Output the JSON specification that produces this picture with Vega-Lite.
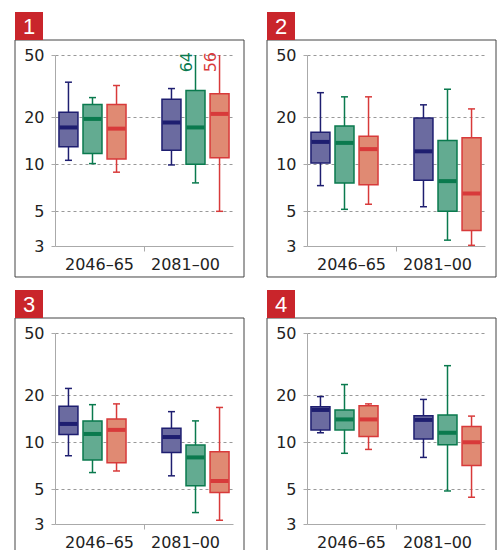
{
  "$schema": "https://vega.github.io/schema/vega-lite/v6.json",
  "padding": {"left": 14, "top": 12, "right": 0, "bottom": 0},
  "config": {
    "view": {"stroke": null},
    "font": "DejaVu Sans",
    "axis": {"labelFont": "DejaVu Sans", "labelFontSize": 16, "labelColor": "#222"}
  },
  "datasets": {
    "panels": [{"panel": 1}, {"panel": 2}, {"panel": 3}, {"panel": 4}],
    "boxes": [
      {"panel": 1, "period": "2046–65", "series": "A", "lo": 10.6, "q1": 12.95, "med": 17.2, "q3": 21.5, "hi": 33.5},
      {"panel": 1, "period": "2046–65", "series": "B", "lo": 10.1, "q1": 11.7, "med": 19.5, "q3": 24.1, "hi": 26.7},
      {"panel": 1, "period": "2046–65", "series": "C", "lo": 8.9, "q1": 10.8, "med": 16.9, "q3": 24.1, "hi": 31.9},
      {"panel": 1, "period": "2081–00", "series": "A", "lo": 9.9, "q1": 12.3, "med": 18.5, "q3": 26.1, "hi": 30.5},
      {"panel": 1, "period": "2081–00", "series": "B", "lo": 7.6, "q1": 10.0, "med": 17.2, "q3": 29.6, "hi": 64, "lab": "64"},
      {"panel": 1, "period": "2081–00", "series": "C", "lo": 5.0, "q1": 11.0, "med": 21.0, "q3": 28.3, "hi": 56, "lab": "56"},
      {"panel": 2, "period": "2046–65", "series": "A", "lo": 7.3, "q1": 10.2, "med": 13.9, "q3": 16.0, "hi": 28.7},
      {"panel": 2, "period": "2046–65", "series": "B", "lo": 5.15, "q1": 7.6, "med": 13.7, "q3": 17.6, "hi": 27.0},
      {"panel": 2, "period": "2046–65", "series": "C", "lo": 5.55, "q1": 7.4, "med": 12.5, "q3": 15.1, "hi": 27.0},
      {"panel": 2, "period": "2081–00", "series": "A", "lo": 5.35, "q1": 7.9, "med": 12.1, "q3": 19.8, "hi": 24.0},
      {"panel": 2, "period": "2081–00", "series": "B", "lo": 3.27, "q1": 5.0, "med": 7.8, "q3": 14.2, "hi": 30.2},
      {"panel": 2, "period": "2081–00", "series": "C", "lo": 3.03, "q1": 3.77, "med": 6.5, "q3": 14.8, "hi": 22.6},
      {"panel": 3, "period": "2046–65", "series": "A", "lo": 8.2, "q1": 11.2, "med": 13.1, "q3": 17.0, "hi": 22.1},
      {"panel": 3, "period": "2046–65", "series": "B", "lo": 6.4, "q1": 7.7, "med": 11.3, "q3": 13.7, "hi": 17.4},
      {"panel": 3, "period": "2046–65", "series": "C", "lo": 6.55, "q1": 7.4, "med": 12.0, "q3": 14.1, "hi": 17.6},
      {"panel": 3, "period": "2081–00", "series": "A", "lo": 6.1, "q1": 8.6, "med": 10.8, "q3": 12.3, "hi": 15.7},
      {"panel": 3, "period": "2081–00", "series": "B", "lo": 3.55, "q1": 5.27, "med": 8.0, "q3": 9.6, "hi": 13.7},
      {"panel": 3, "period": "2081–00", "series": "C", "lo": 3.17, "q1": 4.78, "med": 5.65, "q3": 8.7, "hi": 16.7},
      {"panel": 4, "period": "2046–65", "series": "A", "lo": 11.5, "q1": 12.0, "med": 16.1, "q3": 16.9, "hi": 19.6},
      {"panel": 4, "period": "2046–65", "series": "B", "lo": 8.5, "q1": 12.0, "med": 14.0, "q3": 16.1, "hi": 23.4},
      {"panel": 4, "period": "2046–65", "series": "C", "lo": 9.0, "q1": 10.9, "med": 14.0, "q3": 17.1, "hi": 17.6},
      {"panel": 4, "period": "2081–00", "series": "A", "lo": 8.0, "q1": 10.5, "med": 13.9, "q3": 14.8, "hi": 18.8},
      {"panel": 4, "period": "2081–00", "series": "B", "lo": 4.88, "q1": 9.65, "med": 11.5, "q3": 14.95, "hi": 30.9},
      {"panel": 4, "period": "2081–00", "series": "C", "lo": 4.45, "q1": 7.1, "med": 10.0, "q3": 12.6, "hi": 14.7}
    ]
  },
  "columns": 2,
  "spacing": {"column": 21, "row": 12},
  "concat": [
    {
      "width": 178, "height": 191,
      "resolve": {"scale": {"x": "independent", "y": "independent"}},
      "layer": [
        {
          "data": {"name": "panels"},
          "transform": [{"filter": "datum.panel == 1"}],
          "layer": [
            {"mark": {"type": "rect", "fill": null, "fillOpacity": 0, "stroke": "#444", "strokeWidth": 1},
             "encoding": {
               "x": {"datum": -0.2247, "type": "quantitative", "scale": {"domain": [0, 1]}, "axis": null},
               "x2": {"datum": 1.0618},
               "y": {"datum": -0.1623, "type": "quantitative", "scale": {"domain": [0, 1]}, "axis": null},
               "y2": {"datum": 1.0785}}},
            {"mark": {"type": "rect", "fill": "#c9252b"},
             "encoding": {
               "x": {"datum": -0.2247, "type": "quantitative"},
               "x2": {"datum": -0.0674},
               "y": {"datum": 1.0785, "type": "quantitative"},
               "y2": {"datum": 1.2251}}},
            {"mark": {"type": "text", "color": "white", "fontSize": 22, "baseline": "middle", "align": "center", "font": "Liberation Sans"},
             "encoding": {
               "x": {"datum": -0.146, "type": "quantitative"},
               "y": {"datum": 1.147, "type": "quantitative"},
               "text": {"field": "panel"}}}
          ]
        },
        {
          "data": {"name": "boxes"},
          "transform": [{"filter": "datum.panel == 1"}],
          "encoding": {
            "x": {"field": "period", "type": "nominal", "sort": null,
                  "scale": {"paddingInner": 0.3, "paddingOuter": 0.014},
                  "axis": {"orient": "bottom", "title": null, "labelAngle": 0, "domainColor": "#aaa", "tickColor": "#aaa", "tickSize": 5,
                           "bandPosition": -0.214,
                           "tickOpacity": {"condition": {"test": "datum.value == '2046–65'", "value": 0}, "value": 1},
                           "labelOffset": {"condition": {"test": "datum.value == '2046–65'", "value": 7}, "value": -10},
                           "labelPadding": 5}},
            "xOffset": {"field": "series", "type": "nominal", "sort": null,
                        "scale": {"paddingInner": 0.21, "paddingOuter": 0.105}}
          },
          "layer": [
            {"mark": {"type": "rule", "strokeWidth": 1.5, "clip": true},
             "encoding": {
               "y": {"field": "lo", "type": "quantitative",
                     "scale": {"type": "log", "domain": [3, 50], "nice": false},
                     "axis": {"orient": "left", "title": null, "values": [3, 5, 10, 20, 50], "grid": true, "gridDash": [3, 3], "gridColor": "#999",
                              "gridOpacity": {"condition": {"test": "datum.value == 3", "value": 0}, "value": 1},
                              "domainColor": "#aaa", "tickColor": "#aaa", "tickSize": 4, "labelPadding": 7}},
               "y2": {"field": "hi"},
               "stroke": {"field": "series", "scale": {"domain": ["A", "B", "C"], "range": ["#1e1e70", "#0a7a4e", "#d83a3a"]}, "legend": null}}},
            {"mark": {"type": "tick", "size": 7, "thickness": 1.5, "opacity": 1, "clip": true},
             "encoding": {"y": {"field": "lo", "type": "quantitative"},
                          "color": {"field": "series", "scale": {"domain": ["A", "B", "C"], "range": ["#1e1e70", "#0a7a4e", "#d83a3a"]}, "legend": null}}},
            {"mark": {"type": "tick", "size": 7, "thickness": 1.5, "opacity": 1, "clip": true},
             "encoding": {"y": {"field": "hi", "type": "quantitative"},
                          "color": {"field": "series", "legend": null}}},
            {"mark": {"type": "bar", "strokeWidth": 1.5, "clip": true},
             "encoding": {
               "y": {"field": "q1", "type": "quantitative"},
               "y2": {"field": "q3"},
               "fill": {"field": "series", "scale": {"domain": ["A", "B", "C"], "range": ["#6b6ba0", "#63ab91", "#e08a73"]}, "legend": null},
               "stroke": {"field": "series", "legend": null}}},
            {"mark": {"type": "tick", "size": 18, "thickness": 4, "opacity": 1, "clip": true},
             "encoding": {"y": {"field": "med", "type": "quantitative"},
                          "color": {"field": "series", "legend": null}}},
            {"transform": [{"filter": "datum.lab"}],
             "mark": {"type": "text", "angle": 270, "align": "right", "baseline": "bottom", "dx": 3, "dy": -1, "fontSize": 16},
             "encoding": {"y": {"datum": 50, "type": "quantitative"},
                          "text": {"field": "lab"},
                          "color": {"field": "series", "legend": null}}}
          ]
        }
      ]
    },
    {
      "width": 178, "height": 191,
      "resolve": {"scale": {"x": "independent", "y": "independent"}},
      "layer": [
        {
          "data": {"name": "panels"},
          "transform": [{"filter": "datum.panel == 2"}],
          "layer": [
            {"mark": {"type": "rect", "fill": null, "fillOpacity": 0, "stroke": "#444", "strokeWidth": 1},
             "encoding": {
               "x": {"datum": -0.2247, "type": "quantitative", "scale": {"domain": [0, 1]}, "axis": null},
               "x2": {"datum": 1.0618},
               "y": {"datum": -0.1623, "type": "quantitative", "scale": {"domain": [0, 1]}, "axis": null},
               "y2": {"datum": 1.0785}}},
            {"mark": {"type": "rect", "fill": "#c9252b"},
             "encoding": {
               "x": {"datum": -0.2247, "type": "quantitative"},
               "x2": {"datum": -0.0674},
               "y": {"datum": 1.0785, "type": "quantitative"},
               "y2": {"datum": 1.2251}}},
            {"mark": {"type": "text", "color": "white", "fontSize": 22, "baseline": "middle", "align": "center", "font": "Liberation Sans"},
             "encoding": {
               "x": {"datum": -0.146, "type": "quantitative"},
               "y": {"datum": 1.147, "type": "quantitative"},
               "text": {"field": "panel"}}}
          ]
        },
        {
          "data": {"name": "boxes"},
          "transform": [{"filter": "datum.panel == 2"}],
          "encoding": {
            "x": {"field": "period", "type": "nominal", "sort": null,
                  "scale": {"paddingInner": 0.3, "paddingOuter": 0.014},
                  "axis": {"orient": "bottom", "title": null, "labelAngle": 0, "domainColor": "#aaa", "tickColor": "#aaa", "tickSize": 5,
                           "bandPosition": -0.214,
                           "tickOpacity": {"condition": {"test": "datum.value == '2046–65'", "value": 0}, "value": 1},
                           "labelOffset": {"condition": {"test": "datum.value == '2046–65'", "value": 7}, "value": -10},
                           "labelPadding": 5}},
            "xOffset": {"field": "series", "type": "nominal", "sort": null,
                        "scale": {"paddingInner": 0.21, "paddingOuter": 0.105}}
          },
          "layer": [
            {"mark": {"type": "rule", "strokeWidth": 1.5, "clip": true},
             "encoding": {
               "y": {"field": "lo", "type": "quantitative",
                     "scale": {"type": "log", "domain": [3, 50], "nice": false},
                     "axis": {"orient": "left", "title": null, "values": [3, 5, 10, 20, 50], "grid": true, "gridDash": [3, 3], "gridColor": "#999",
                              "gridOpacity": {"condition": {"test": "datum.value == 3", "value": 0}, "value": 1},
                              "domainColor": "#aaa", "tickColor": "#aaa", "tickSize": 4, "labelPadding": 7}},
               "y2": {"field": "hi"},
               "stroke": {"field": "series", "scale": {"domain": ["A", "B", "C"], "range": ["#1e1e70", "#0a7a4e", "#d83a3a"]}, "legend": null}}},
            {"mark": {"type": "tick", "size": 7, "thickness": 1.5, "opacity": 1, "clip": true},
             "encoding": {"y": {"field": "lo", "type": "quantitative"},
                          "color": {"field": "series", "scale": {"domain": ["A", "B", "C"], "range": ["#1e1e70", "#0a7a4e", "#d83a3a"]}, "legend": null}}},
            {"mark": {"type": "tick", "size": 7, "thickness": 1.5, "opacity": 1, "clip": true},
             "encoding": {"y": {"field": "hi", "type": "quantitative"},
                          "color": {"field": "series", "legend": null}}},
            {"mark": {"type": "bar", "strokeWidth": 1.5, "clip": true},
             "encoding": {
               "y": {"field": "q1", "type": "quantitative"},
               "y2": {"field": "q3"},
               "fill": {"field": "series", "scale": {"domain": ["A", "B", "C"], "range": ["#6b6ba0", "#63ab91", "#e08a73"]}, "legend": null},
               "stroke": {"field": "series", "legend": null}}},
            {"mark": {"type": "tick", "size": 18, "thickness": 4, "opacity": 1, "clip": true},
             "encoding": {"y": {"field": "med", "type": "quantitative"},
                          "color": {"field": "series", "legend": null}}}
          ]
        }
      ]
    },
    {
      "width": 178, "height": 191,
      "resolve": {"scale": {"x": "independent", "y": "independent"}},
      "layer": [
        {
          "data": {"name": "panels"},
          "transform": [{"filter": "datum.panel == 3"}],
          "layer": [
            {"mark": {"type": "rect", "fill": null, "fillOpacity": 0, "stroke": "#444", "strokeWidth": 1},
             "encoding": {
               "x": {"datum": -0.2247, "type": "quantitative", "scale": {"domain": [0, 1]}, "axis": null},
               "x2": {"datum": 1.0618},
               "y": {"datum": -0.1623, "type": "quantitative", "scale": {"domain": [0, 1]}, "axis": null},
               "y2": {"datum": 1.0785}}},
            {"mark": {"type": "rect", "fill": "#c9252b"},
             "encoding": {
               "x": {"datum": -0.2247, "type": "quantitative"},
               "x2": {"datum": -0.0674},
               "y": {"datum": 1.0785, "type": "quantitative"},
               "y2": {"datum": 1.2251}}},
            {"mark": {"type": "text", "color": "white", "fontSize": 22, "baseline": "middle", "align": "center", "font": "Liberation Sans"},
             "encoding": {
               "x": {"datum": -0.146, "type": "quantitative"},
               "y": {"datum": 1.147, "type": "quantitative"},
               "text": {"field": "panel"}}}
          ]
        },
        {
          "data": {"name": "boxes"},
          "transform": [{"filter": "datum.panel == 3"}],
          "encoding": {
            "x": {"field": "period", "type": "nominal", "sort": null,
                  "scale": {"paddingInner": 0.3, "paddingOuter": 0.014},
                  "axis": {"orient": "bottom", "title": null, "labelAngle": 0, "domainColor": "#aaa", "tickColor": "#aaa", "tickSize": 5,
                           "bandPosition": -0.214,
                           "tickOpacity": {"condition": {"test": "datum.value == '2046–65'", "value": 0}, "value": 1},
                           "labelOffset": {"condition": {"test": "datum.value == '2046–65'", "value": 7}, "value": -10},
                           "labelPadding": 5}},
            "xOffset": {"field": "series", "type": "nominal", "sort": null,
                        "scale": {"paddingInner": 0.21, "paddingOuter": 0.105}}
          },
          "layer": [
            {"mark": {"type": "rule", "strokeWidth": 1.5, "clip": true},
             "encoding": {
               "y": {"field": "lo", "type": "quantitative",
                     "scale": {"type": "log", "domain": [3, 50], "nice": false},
                     "axis": {"orient": "left", "title": null, "values": [3, 5, 10, 20, 50], "grid": true, "gridDash": [3, 3], "gridColor": "#999",
                              "gridOpacity": {"condition": {"test": "datum.value == 3", "value": 0}, "value": 1},
                              "domainColor": "#aaa", "tickColor": "#aaa", "tickSize": 4, "labelPadding": 7}},
               "y2": {"field": "hi"},
               "stroke": {"field": "series", "scale": {"domain": ["A", "B", "C"], "range": ["#1e1e70", "#0a7a4e", "#d83a3a"]}, "legend": null}}},
            {"mark": {"type": "tick", "size": 7, "thickness": 1.5, "opacity": 1, "clip": true},
             "encoding": {"y": {"field": "lo", "type": "quantitative"},
                          "color": {"field": "series", "scale": {"domain": ["A", "B", "C"], "range": ["#1e1e70", "#0a7a4e", "#d83a3a"]}, "legend": null}}},
            {"mark": {"type": "tick", "size": 7, "thickness": 1.5, "opacity": 1, "clip": true},
             "encoding": {"y": {"field": "hi", "type": "quantitative"},
                          "color": {"field": "series", "legend": null}}},
            {"mark": {"type": "bar", "strokeWidth": 1.5, "clip": true},
             "encoding": {
               "y": {"field": "q1", "type": "quantitative"},
               "y2": {"field": "q3"},
               "fill": {"field": "series", "scale": {"domain": ["A", "B", "C"], "range": ["#6b6ba0", "#63ab91", "#e08a73"]}, "legend": null},
               "stroke": {"field": "series", "legend": null}}},
            {"mark": {"type": "tick", "size": 18, "thickness": 4, "opacity": 1, "clip": true},
             "encoding": {"y": {"field": "med", "type": "quantitative"},
                          "color": {"field": "series", "legend": null}}}
          ]
        }
      ]
    },
    {
      "width": 178, "height": 191,
      "resolve": {"scale": {"x": "independent", "y": "independent"}},
      "layer": [
        {
          "data": {"name": "panels"},
          "transform": [{"filter": "datum.panel == 4"}],
          "layer": [
            {"mark": {"type": "rect", "fill": null, "fillOpacity": 0, "stroke": "#444", "strokeWidth": 1},
             "encoding": {
               "x": {"datum": -0.2247, "type": "quantitative", "scale": {"domain": [0, 1]}, "axis": null},
               "x2": {"datum": 1.0618},
               "y": {"datum": -0.1623, "type": "quantitative", "scale": {"domain": [0, 1]}, "axis": null},
               "y2": {"datum": 1.0785}}},
            {"mark": {"type": "rect", "fill": "#c9252b"},
             "encoding": {
               "x": {"datum": -0.2247, "type": "quantitative"},
               "x2": {"datum": -0.0674},
               "y": {"datum": 1.0785, "type": "quantitative"},
               "y2": {"datum": 1.2251}}},
            {"mark": {"type": "text", "color": "white", "fontSize": 22, "baseline": "middle", "align": "center", "font": "Liberation Sans"},
             "encoding": {
               "x": {"datum": -0.146, "type": "quantitative"},
               "y": {"datum": 1.147, "type": "quantitative"},
               "text": {"field": "panel"}}}
          ]
        },
        {
          "data": {"name": "boxes"},
          "transform": [{"filter": "datum.panel == 4"}],
          "encoding": {
            "x": {"field": "period", "type": "nominal", "sort": null,
                  "scale": {"paddingInner": 0.3, "paddingOuter": 0.014},
                  "axis": {"orient": "bottom", "title": null, "labelAngle": 0, "domainColor": "#aaa", "tickColor": "#aaa", "tickSize": 5,
                           "bandPosition": -0.214,
                           "tickOpacity": {"condition": {"test": "datum.value == '2046–65'", "value": 0}, "value": 1},
                           "labelOffset": {"condition": {"test": "datum.value == '2046–65'", "value": 7}, "value": -10},
                           "labelPadding": 5}},
            "xOffset": {"field": "series", "type": "nominal", "sort": null,
                        "scale": {"paddingInner": 0.21, "paddingOuter": 0.105}}
          },
          "layer": [
            {"mark": {"type": "rule", "strokeWidth": 1.5, "clip": true},
             "encoding": {
               "y": {"field": "lo", "type": "quantitative",
                     "scale": {"type": "log", "domain": [3, 50], "nice": false},
                     "axis": {"orient": "left", "title": null, "values": [3, 5, 10, 20, 50], "grid": true, "gridDash": [3, 3], "gridColor": "#999",
                              "gridOpacity": {"condition": {"test": "datum.value == 3", "value": 0}, "value": 1},
                              "domainColor": "#aaa", "tickColor": "#aaa", "tickSize": 4, "labelPadding": 7}},
               "y2": {"field": "hi"},
               "stroke": {"field": "series", "scale": {"domain": ["A", "B", "C"], "range": ["#1e1e70", "#0a7a4e", "#d83a3a"]}, "legend": null}}},
            {"mark": {"type": "tick", "size": 7, "thickness": 1.5, "opacity": 1, "clip": true},
             "encoding": {"y": {"field": "lo", "type": "quantitative"},
                          "color": {"field": "series", "scale": {"domain": ["A", "B", "C"], "range": ["#1e1e70", "#0a7a4e", "#d83a3a"]}, "legend": null}}},
            {"mark": {"type": "tick", "size": 7, "thickness": 1.5, "opacity": 1, "clip": true},
             "encoding": {"y": {"field": "hi", "type": "quantitative"},
                          "color": {"field": "series", "legend": null}}},
            {"mark": {"type": "bar", "strokeWidth": 1.5, "clip": true},
             "encoding": {
               "y": {"field": "q1", "type": "quantitative"},
               "y2": {"field": "q3"},
               "fill": {"field": "series", "scale": {"domain": ["A", "B", "C"], "range": ["#6b6ba0", "#63ab91", "#e08a73"]}, "legend": null},
               "stroke": {"field": "series", "legend": null}}},
            {"mark": {"type": "tick", "size": 18, "thickness": 4, "opacity": 1, "clip": true},
             "encoding": {"y": {"field": "med", "type": "quantitative"},
                          "color": {"field": "series", "legend": null}}}
          ]
        }
      ]
    }
  ]
}
